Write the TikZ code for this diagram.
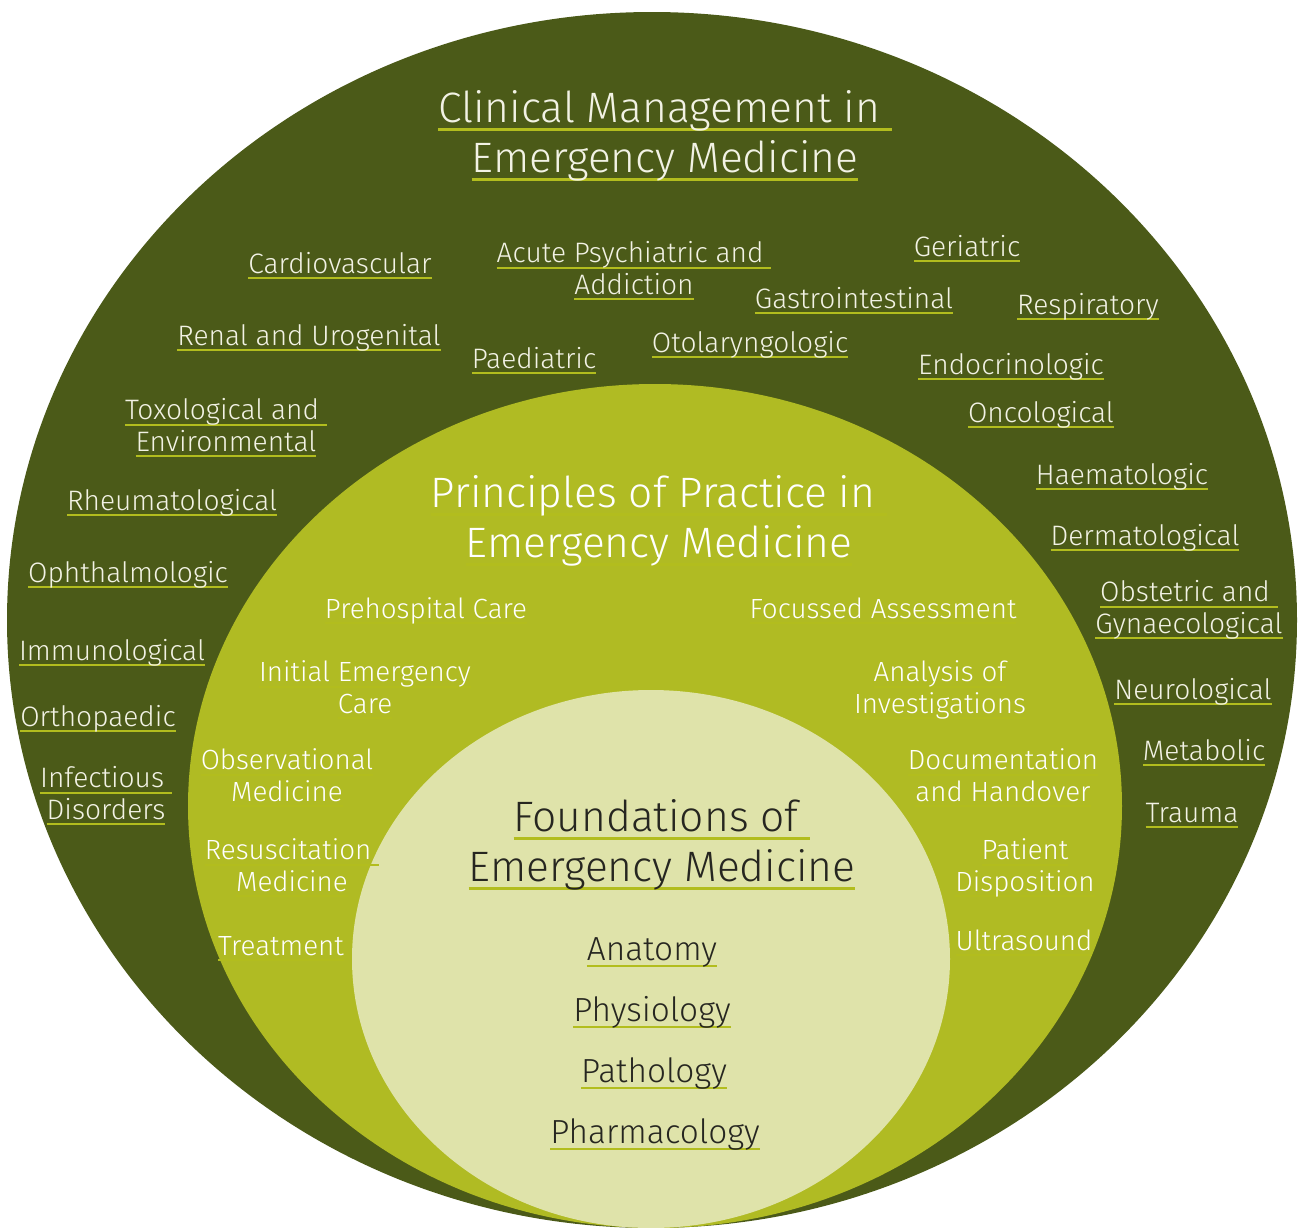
\documentclass[tikz,border=0pt]{standalone}
\usepackage{fontspec}
\setmainfont{Fira Sans}[UprightFont={* Light}]
\usepackage{xcolor}
\usepackage{tikz}
\usetikzlibrary{positioning}
\definecolor{emdark}{RGB}{75,90,24}
\definecolor{emlime}{RGB}{176,187,35}
\definecolor{empale}{RGB}{223,227,170}
\definecolor{emline}{RGB}{178,189,30}
\definecolor{emcream}{RGB}{242,242,228}
\definecolor{emink}{RGB}{38,38,32}
% underlined line of text
\newcommand\ul[1]{\setbox0\hbox{#1}\rlap{\color{emline}\rule[-0.21em]{\wd0}{0.07em}}\box0}

\begin{document}
\begin{tikzpicture}[x=0.02cm,y=-0.02cm,
  lbl/.style={align=center,anchor=base,inner sep=0pt},
  heading/.style={lbl,font=\fontsize{24.2}{28.4}\selectfont},
  topic/.style={lbl,text=emcream,font=\fontsize{16}{17.8}\selectfont},
  practice/.style={lbl,text=white,font=\fontsize{15.8}{17.8}\selectfont},
  basic/.style={lbl,text=emink,font=\fontsize{19}{20}\selectfont}]
  \useasboundingbox (0,0) rectangle (1303,1228);
  % the three rings
  \fill[emdark] (652,620) ellipse [x radius=645, y radius=608];
  \fill[emlime] (655,806) ellipse [x radius=467, y radius=422];
  \fill[empale] (651,959) ellipse [x radius=299, y radius=269];
  % outer ring (y = baseline of last line)
  \node[heading,text=emcream] (clinical) at (665,172)
    {\ul{Clinical Management in }\\\ul{Emergency Medicine}};
  \foreach \n/\x/\y/\t in {
    cardio/340/273/{\ul{Cardiovascular}},
    psych/634/294/{\ul{Acute Psychiatric and }\\\ul{Addiction}},
    geri/967/256/{\ul{Geriatric}},
    gastro/854/308/{\ul{Gastrointestinal}},
    resp/1088/314/{\ul{Respiratory}},
    renal/309/345/{\ul{Renal and Urogenital}},
    paed/534/368/{\ul{Paediatric}},
    oto/750/352/{\ul{Otolaryngologic}},
    endo/1011/374/{\ul{Endocrinologic}},
    toxo/226/451/{\ul{Toxological and }\\\ul{Environmental}},
    onco/1041/422/{\ul{Oncological}},
    haem/1122/484/{\ul{Haematologic}},
    rheum/172/510/{\ul{Rheumatological}},
    derm/1145/545/{\ul{Dermatological}},
    ophth/128/582/{\ul{Ophthalmologic}},
    obs/1189/633/{\ul{Obstetric and }\\\ul{Gynaecological}},
    immuno/112/660/{\ul{Immunological}},
    neuro/1193/699/{\ul{Neurological}},
    ortho/98/726/{\ul{Orthopaedic}},
    metab/1204/760/{\ul{Metabolic}},
    infect/106/819/{\ul{Infectious }\\\ul{Disorders}},
    trauma/1192/822/{\ul{Trauma}}}
    \node[topic] (\n) at (\x,\y) {\t};
  % middle ring
  \node[heading,text=white] (principles) at (659,557)
    {\ul{Principles of Practice in }\\\ul{Emergency Medicine}};
  \foreach \n/\x/\y/\t in {
    prehosp/426/618/{\ul{Prehospital Care}},
    focus/883/618/{\ul{Focussed Assessment}},
    initial/365/713/{\ul{Initial Emergency}\\\ul{Care}},
    invest/940/713/{\ul{Analysis of}\\\ul{Investigations}},
    observ/287/801/{\ul{Observational}\\\ul{Medicine}},
    docu/1003/801/{\ul{Documentation}\\\ul{and Handover}},
    resus/292/891/{\ul{Resuscitation }\\\ul{Medicine}},
    dispo/1025/891/{\ul{Patient}\\\ul{Disposition}},
    treat/281/955/{\ul{Treatment}},
    ultra/1024/950/{\ul{Ultrasound}}}
    \node[practice] (\n) at (\x,\y) {\t};
  % inner ring
  \node[heading,text=emink] (foundations) at (662,881)
    {\ul{Foundations of }\\\ul{Emergency Medicine}};
  \node[basic] (anatomy) at (652,960) {\ul{Anatomy}};
  \node[basic] (physio) at (652,1021) {\ul{Physiology}};
  \node[basic] (patho) at (654,1082) {\ul{Pathology}};
  \node[basic] (pharma) at (655,1143) {\ul{Pharmacology}};
\end{tikzpicture}
\end{document}
